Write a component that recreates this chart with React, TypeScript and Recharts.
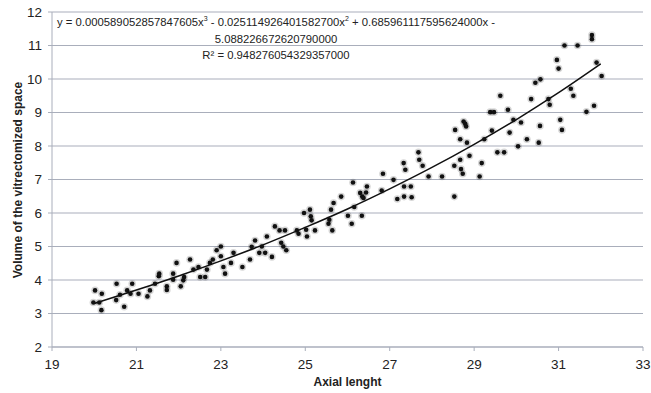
import React from 'react'
import {
    ComposedChart,
    Scatter,
    Line,
    XAxis,
    YAxis,
    CartesianGrid
} from 'recharts'

// axial length (x) and vitrectomized volume (y)
const axialLength = [
    20.02, 20.18, 19.98, 20.12, 20.17, 20.53, 20.52, 20.61, 20.71, 20.78, 20.86, 20.9,
    21.05, 21.26, 21.32, 21.44, 21.53, 21.54, 21.72, 21.72, 21.87, 21.87, 21.95, 22.05,
    22.11, 22.13, 22.27, 22.35, 22.47, 22.51, 22.63, 22.67, 22.74, 22.81, 22.9, 23.0,
    23.0, 23.06, 23.1, 23.24, 23.3, 23.51, 23.69, 23.73, 23.81, 23.91, 23.97, 24.05,
    24.09, 24.21, 24.28, 24.39, 24.43, 24.48, 24.52, 24.55, 24.8, 24.84, 24.97, 25.02,
    25.04, 25.11, 25.13, 25.15, 25.23, 25.55, 25.57, 25.61, 25.64, 25.67, 25.85, 26.01,
    26.1, 26.13, 26.16, 26.3, 26.34, 26.35, 26.38, 26.44, 26.46, 26.84, 26.81, 27.09,
    27.18, 27.33, 27.37, 27.34, 27.34, 27.5, 27.52, 27.68, 27.7, 27.78, 27.92, 28.24,
    28.53, 28.53, 28.55, 28.67, 28.67, 28.69, 28.73, 28.75, 28.79, 28.81, 28.83, 28.89,
    29.13, 29.18, 29.24, 29.38, 29.47, 29.42, 29.55, 29.62, 29.71, 29.8, 29.84, 29.93,
    30.04, 30.11, 30.25, 30.35, 30.45, 30.57, 30.53, 30.56, 30.76, 30.79, 30.96, 31.0,
    31.04, 31.08, 31.14, 31.29, 31.35, 31.45, 31.66, 31.79, 31.79, 31.84, 31.9, 32.02,
]
const volume = [
    3.69, 3.59, 3.33, 3.33, 3.1, 3.89, 3.4, 3.56, 3.2, 3.69, 3.59, 3.89,
    3.59, 3.51, 3.69, 3.89, 4.11, 4.19, 3.81, 3.7, 4.19, 4.01, 4.51, 3.81,
    3.99, 4.09, 4.61, 4.31, 4.39, 4.09, 4.09, 4.31, 4.51, 4.61, 4.89, 5.0,
    4.71, 4.39, 4.19, 4.51, 4.81, 4.39, 4.61, 4.99, 5.18, 4.81, 5.0, 4.81,
    5.3, 4.69, 5.6, 5.48, 5.11, 5.0, 5.48, 4.89, 5.48, 5.38, 6.0, 5.5,
    5.3, 6.1, 5.9, 5.78, 5.48, 5.68, 5.8, 6.1, 5.48, 6.3, 6.49, 5.92,
    5.68, 6.91, 6.18, 6.6, 5.92, 6.49, 6.45, 6.61, 6.79, 7.17, 6.67, 6.99,
    6.42, 7.49, 7.29, 6.79, 6.49, 6.79, 6.47, 7.81, 7.59, 7.41, 7.09, 7.09,
    7.41, 6.49, 8.48, 8.2, 7.59, 7.31, 7.17, 8.73, 8.66, 8.58, 8.1, 7.71,
    7.09, 7.49, 8.2, 9.01, 9.01, 8.46, 7.81, 9.5, 7.81, 9.08, 8.4, 8.78,
    7.99, 8.7, 8.2, 9.4, 9.89, 9.99, 8.1, 8.6, 9.4, 9.23, 10.57, 10.31,
    8.78, 8.48, 11.0, 9.71, 9.5, 11.0, 9.02, 11.31, 11.19, 9.2, 10.49, 10.09,
]

// polynomial trendline, sampled at whole mm
const trendX = [20, 21, 22, 23, 24, 25, 26, 27, 28, 29, 30, 31, 32]
const trendY = [3.3, 3.7, 4.12, 4.57, 5.05, 5.57, 6.12, 6.72, 7.36, 8.05, 8.79, 9.59, 10.45]

const xTicks = [19, 21, 23, 25, 27, 29, 31, 33]
const yTicks = [2, 3, 4, 5, 6, 7, 8, 9, 10, 11, 12]

const points = axialLength.map((x, i) => ({ x, y: volume[i] }))
const trend = trendX.map((x, i) => ({ x, y: trendY[i] }))

const FONT = '"Liberation Sans", Arial, sans-serif'
const GRID = '#a9aebb'

const Dot = ({ cx, cy }: any) => (
    <g>
        <circle cx={cx} cy={cy} r={3.8} fill="#000" opacity={0.16} />
        <circle cx={cx} cy={cy} r={2.3} fill="#111" />
    </g>
)

export default function App() {
    return (
        <div style={{ position: 'absolute', left: 0, top: 0, width: 651, height: 393, background: '#fff', fontFamily: FONT }}>
            <ComposedChart
                width={651}
                height={393}
                margin={{ top: 12, right: 8, bottom: 16, left: 12 }}
            >
                <CartesianGrid vertical={false} stroke={GRID} strokeWidth={1.2} />
                <XAxis
                    type="number"
                    dataKey="x"
                    domain={[19, 33]}
                    ticks={xTicks}
                    allowDataOverflow
                    height={30}
                    stroke={GRID}
                    tickSize={4}
                    tickMargin={8}
                    tick={{ fill: '#222', fontSize: 13.5, fontFamily: FONT }}
                />
                <YAxis
                    type="number"
                    dataKey="y"
                    domain={[2, 12]}
                    ticks={yTicks}
                    allowDataOverflow
                    width={40}
                    stroke={GRID}
                    tickSize={4}
                    tickMargin={6}
                    tick={{ fill: '#222', fontSize: 13.5, fontFamily: FONT }}
                />
                <Scatter data={points} shape={<Dot />} isAnimationActive={false} />
                <Line
                    data={trend}
                    dataKey="y"
                    type="monotone"
                    stroke="#111"
                    strokeWidth={1.5}
                    dot={false}
                    activeDot={false}
                    isAnimationActive={false}
                />
            </ComposedChart>

            {/* trendline equation */}
            <div style={{ position: 'absolute', left: 57, top: 14, width: 438, fontSize: 11.3, lineHeight: '16.5px', color: '#222', textAlign: 'center', whiteSpace: 'nowrap' }}>
                <div style={{ textAlign: 'left' }}>
                    y = 0.000589052857847605x<sup style={{ fontSize: 7, verticalAlign: 'top', lineHeight: '10px' }}>3</sup> - 0.025114926401582700x<sup style={{ fontSize: 7, verticalAlign: 'top', lineHeight: '10px' }}>2</sup> + 0.685961117595624000x -
                </div>
                <div>5.088226672620790000</div>
                <div>R² = 0.948276054329357000</div>
            </div>

            {/* axis titles */}
            <div style={{ position: 'absolute', left: 0, top: 375, width: 695, textAlign: 'center', fontSize: 12, fontWeight: 'bold', color: '#222' }}>
                Axial lenght
            </div>
            <div style={{ position: 'absolute', left: 18, top: 180, width: 0, height: 0 }}>
                <div style={{ position: 'absolute', transform: 'translate(-50%, -50%) rotate(-90deg)', whiteSpace: 'nowrap', fontSize: 12, fontWeight: 'bold', color: '#222' }}>
                    Volume of the vitrectomized space
                </div>
            </div>
        </div>
    )
}
